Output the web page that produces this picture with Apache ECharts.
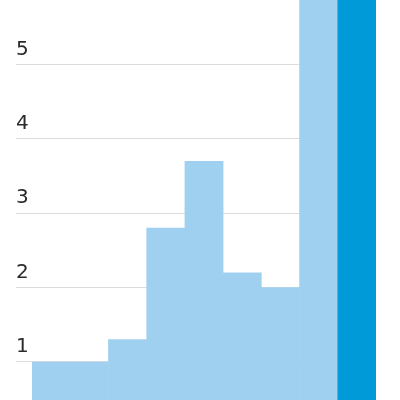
<!DOCTYPE html>
<html><head><meta charset="utf-8">
<script src="https://cdn.jsdelivr.net/npm/echarts@6/dist/echarts.min.js"></script>
<style>html,body{margin:0;padding:0;background:#fff}#c{width:400px;height:400px}</style>
</head><body><div id="c"></div>
<script>
var categories = ['A','B','C','D','E','F','G','H','I'];
var values = [1.0, 1.0, 1.3, 2.8, 3.7, 2.2, 2.0, 7.0, 8.0];
var highlight = [false, false, false, false, false, false, false, false, true];
var yTicks = [0, 6, 1];

var light = '#9fd0f0', dark = '#009ad9';
var chart = echarts.init(document.getElementById('c'), null, {renderer:'canvas'});
chart.setOption({
  animation:false,
  grid:[
    {left:16, right:24, top:-10, bottom:-36, containLabel:false, outerBoundsMode:'none'},
    {left:32, right:24, top:-10, bottom:-36, containLabel:false, outerBoundsMode:'none'}
  ],
  xAxis:[
    {gridIndex:0, type:'category', data:categories, show:false},
    {gridIndex:1, type:'category', data:categories, show:false}
  ],
  yAxis:[
    {gridIndex:0, type:'value', min:yTicks[0], max:yTicks[1], interval:yTicks[2],
     axisLine:{show:false}, axisTick:{show:false},
     splitLine:{show:true, lineStyle:{color:'#dcdcdc', width:1}},
     axisLabel:{inside:true, margin:0, align:'left', verticalAlign:'bottom',
       lineHeight:20, padding:[0,0,5,0],
       fontFamily:'DejaVu Sans', fontSize:20, color:'#2a2a2a'}},
    {gridIndex:1, type:'value', min:yTicks[0], max:yTicks[1], interval:yTicks[2], show:false,
     splitLine:{show:false}}
  ],
  series:[{
    type:'bar', xAxisIndex:1, yAxisIndex:1, barWidth:'101.5%',
    data: values.map(function(v,i){var c = highlight[i]?dark:light;
      return {value:v, itemStyle:{color:c}};})
  }]
});
</script></body></html>
